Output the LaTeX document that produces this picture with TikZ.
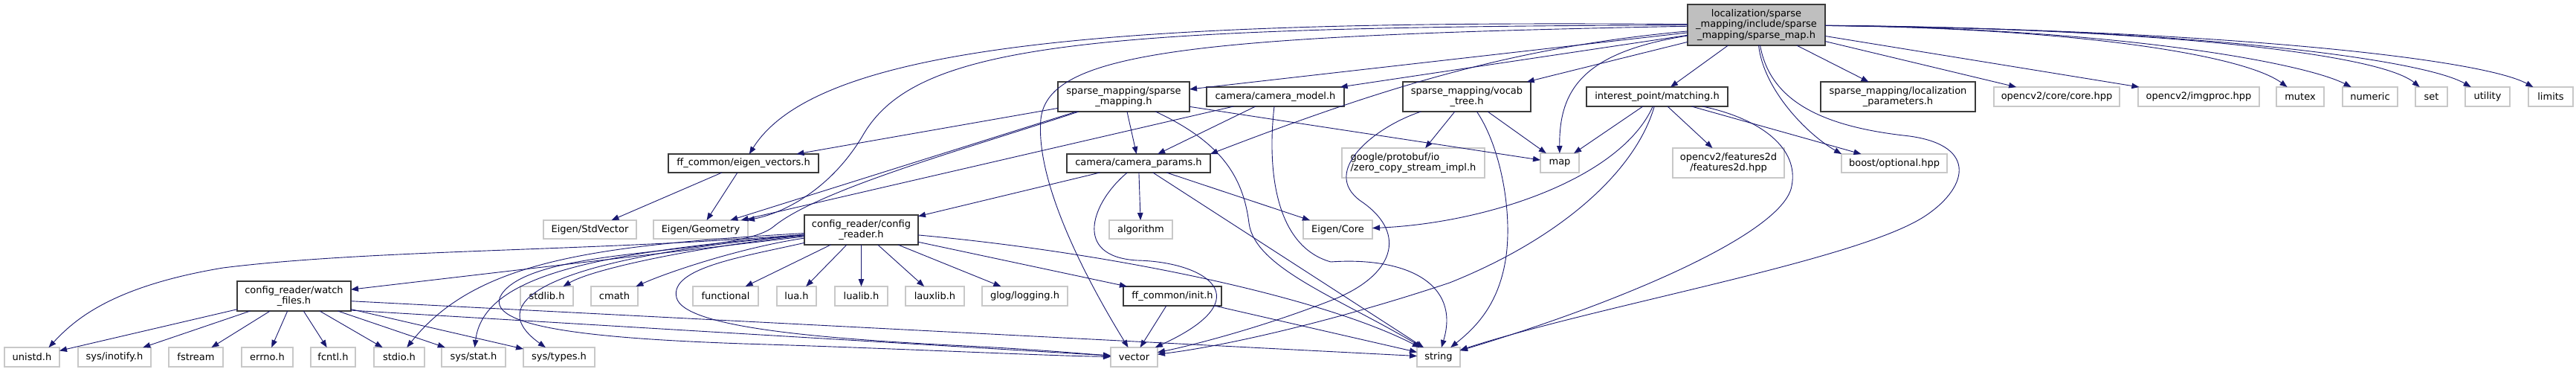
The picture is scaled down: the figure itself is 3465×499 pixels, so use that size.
\documentclass[tikz,border=0pt]{standalone}
\usepackage{fontspec}
\setmainfont{DejaVu Sans}
\usetikzlibrary{arrows.meta}
\definecolor{edgec}{HTML}{191970}
\definecolor{lgray}{HTML}{C8C8C8}
\definecolor{dgray}{HTML}{3A3A3A}
\definecolor{rootgray}{HTML}{BFBFBF}
\newcommand\dfont{\fontsize{13}{14.5}\selectfont}
\tikzset{
  base/.style={rectangle, inner sep=0pt, outer sep=0pt, font=\dfont, line width=1.4pt, align=center},
  ext/.style={base, draw=lgray, fill=white},
  doc/.style={base, draw=dgray, fill=white},
  rootn/.style={base, draw=dgray, fill=rootgray},
  sz/.style 2 args={minimum width=#1pt, minimum height=#2pt},
  e/.style={draw=edgec, line width=0.9pt, -{Triangle[length=10pt,width=7.5pt]}},
}
\begin{document}
\begin{tikzpicture}[x=1pt,y=-1pt]
\fill[white] (0,0) rectangle (3465,499);
\useasboundingbox (0,0) rectangle (3465,499);

% row 1
\node[rootn, sz={185}{55}] (R) at (2362.5,33.5) {localization/sparse\\\_mapping/include/sparse\\\_mapping/sparse\_map.h};
% row 2
\node[doc, sz={177}{40}] (sm) at (1511.5,130) {sparse\_mapping/sparse\\\_mapping.h};
\node[doc, sz={185}{26}] (cm) at (1715.5,130) {camera/camera\_model.h};
\node[doc, sz={172}{40}] (vt) at (1973,130) {sparse\_mapping/vocab\\\_tree.h};
\node[doc, sz={190}{26}] (mt) at (2229,130) {interest\_point/matching.h};
\node[doc, sz={208}{40}] (lp) at (2553,130) {sparse\_mapping/localization\\\_parameters.h};
\node[ext, sz={169}{26}] (core) at (2766.5,130) {opencv2/core/core.hpp};
\node[ext, sz={163}{26}] (imgp) at (2957.5,130) {opencv2/imgproc.hpp};
\node[ext, sz={64}{26}] (mutex) at (3094,130) {mutex};
\node[ext, sz={74}{26}] (numeric) at (3188,130) {numeric};
\node[ext, sz={43}{26}] (set) at (3270.5,130) {set};
\node[ext, sz={60}{26}] (utility) at (3346,130) {utility};
\node[ext, sz={60}{26}] (limits) at (3431,130) {limits};
% row 3
\node[doc, sz={202}{25}] (ev) at (1000,219.5) {ff\_common/eigen\_vectors.h};
\node[doc, sz={193}{25}] (cp) at (1531.5,219.5) {camera/camera\_params.h};
\node[ext, sz={192}{40}, align=left] (gp) at (1901,219) {google/protobuf/io\\/zero\_copy\_stream\_impl.h};
\node[ext, sz={52}{26}] (map) at (2098,219) {map};
\node[ext, sz={150}{40}] (f2d) at (2325,219) {opencv2/features2d\\/features2d.hpp};
\node[ext, sz={142}{25}] (bo) at (2548,219.5) {boost/optional.hpp};
% row 4
\node[ext, sz={125}{25}] (sv) at (793.5,308.5) {Eigen/StdVector};
\node[ext, sz={127}{25}] (eg) at (942.5,308.5) {Eigen/Geometry};
\node[doc, sz={153}{40}] (cr) at (1158.5,309) {config\_reader/config\\\_reader.h};
\node[ext, sz={85}{25}] (alg) at (1534.5,308.5) {algorithm};
\node[ext, sz={93}{25}] (ec) at (1799.5,308.5) {Eigen/Core};
% row 5
\node[doc, sz={153}{40}] (wf) at (395.5,398) {config\_reader/watch\\\_files.h};
\node[ext, sz={71}{26}] (stdlib) at (735.5,398) {stdlib.h};
\node[ext, sz={63}{26}] (cmath) at (826.5,398) {cmath};
\node[ext, sz={88}{26}] (func) at (976,398) {functional};
\node[ext, sz={53}{26}] (lua) at (1071.5,398) {lua.h};
\node[ext, sz={71}{26}] (lualib) at (1158.5,398) {lualib.h};
\node[ext, sz={79}{26}] (lauxlib) at (1257.5,398) {lauxlib.h};
\node[ext, sz={115}{26}] (glog) at (1378.5,398) {glog/logging.h};
\node[doc, sz={132}{26}] (init) at (1577,398) {ff\_common/init.h};
% row 6
\node[ext, sz={74}{26}] (unistd) at (43,480) {unistd.h};
\node[ext, sz={98}{26}] (inotify) at (154,480) {sys/inotify.h};
\node[ext, sz={73}{26}] (fstream) at (263.5,480) {fstream};
\node[ext, sz={69}{26}] (errno) at (359.5,480) {errno.h};
\node[ext, sz={60}{26}] (fcntl) at (448,480) {fcntl.h};
\node[ext, sz={68}{26}] (stdio) at (537,480) {stdio.h};
\node[ext, sz={86}{26}] (stat) at (637,480) {sys/stat.h};
\node[ext, sz={96}{26}] (types) at (752,480) {sys/types.h};
\node[ext, sz={63}{26}] (vector) at (1525.5,480) {vector};
\node[ext, sz={58}{26}] (string) at (1935,480) {string};

% root edges
\draw[e] (R) -- (sm);
\draw[e] (R) -- (cm);
\draw[e] (R) -- (vt);
\draw[e] (R) -- (mt);
\draw[e] (R) -- (lp);
\draw[e] (R) -- (core);
\draw[e] (R) -- (imgp);
\draw[e] (R) .. controls (2800,38) and (3020,75) .. (mutex);
\draw[e] (R) .. controls (2850,38) and (3100,85) .. (numeric);
\draw[e] (R) .. controls (2900,38) and (3200,72) .. (set);
\draw[e] (R) .. controls (2950,38) and (3260,80) .. (utility);
\draw[e] (R) .. controls (3000,40) and (3340,80) .. (limits);
\draw[e] (R) .. controls (2130,70) and (2097,120) .. (map);
\draw[e] (R) .. controls (2372,120) and (2430,180) .. (bo.north west);
\draw[e] (R) .. controls (2380,130) and (2440,168) .. (2560,182) .. controls (2660,192) and (2650,250) .. (2590,290) .. controls (2500,350) and (2150,410) .. (string);
\draw[e] (R) .. controls (1600,48) and (1410,70) .. (1400,160) .. controls (1392,250) and (1470,390) .. (vector);
\draw[e] (R) .. controls (1500,26) and (1100,60) .. (ev);
\draw[e] (R) .. controls (1450,36) and (1230,60) .. (1160,183) .. controls (1120,250) and (1060,285) .. (eg);
\draw[e] (R) .. controls (2050,62) and (1880,110) .. (cp.north east);

% sparse_mapping.h
\draw[e] (sm) -- (ev);
\draw[e] (sm) -- (eg);
\draw[e] (sm) -- (cp);
\draw[e] (sm) -- (map);
\draw[e] (sm) .. controls (1640,190) and (1672,235) .. (1680,300) .. controls (1688,360) and (1800,400) .. (string);
\draw[e] (sm) .. controls (1300,200) and (1100,255) .. (1040,305) .. controls (990,345) and (720,330) .. (675,395) .. controls (645,440) and (800,455) .. (1000,462) .. controls (1200,468) and (1400,478) .. (vector);

% camera_model.h
\draw[e] (cm) -- (cp);
\draw[e] (cm) -- (eg);
\draw[e] (cm) .. controls (1705,220) and (1712,330) .. (1790,352) .. controls (1890,345) and (1965,380) .. (string);

% camera_params.h
\draw[e] (cp) -- (cr);
\draw[e] (cp) -- (alg);
\draw[e] (cp) -- (ec);
\draw[e] (cp) -- (string);
\draw[e] (cp) .. controls (1470,270) and (1440,345) .. (1530,350) .. controls (1620,352) and (1700,400) .. (vector);

% vocab_tree.h
\draw[e] (vt) -- (gp);
\draw[e] (vt) -- (map);
\draw[e] (vt) .. controls (2020,200) and (2035,290) .. (2025,350) .. controls (2015,410) and (1985,440) .. (string);
\draw[e] (vt) .. controls (1850,170) and (1775,230) .. (1830,270) .. controls (1890,310) and (1880,365) .. (1800,400) .. controls (1700,440) and (1600,465) .. (vector);

% matching.h
\draw[e] (mt) -- (map);
\draw[e] (mt) -- (f2d);
\draw[e] (mt) -- (bo);
\draw[e] (mt) .. controls (2180,240) and (2000,300) .. (ec);
\draw[e] (mt) .. controls (2200,230) and (2100,320) .. (1950,380) .. controls (1800,430) and (1650,465) .. (vector);
\draw[e] (mt) .. controls (2370,160) and (2420,200) .. (2410,250) .. controls (2400,310) and (2200,400) .. (string);

% eigen_vectors.h
\draw[e] (ev) -- (sv);
\draw[e] (ev) -- (eg);

% config_reader.h
\draw[e] (cr) -- (wf);
\draw[e] (cr) .. controls (800,338) and (500,335) .. (300,360) .. controls (150,385) and (100,430) .. (unistd.30);
\draw[e] (cr) .. controls (950,330) and (800,360) .. (stdlib);
\draw[e] (cr) .. controls (1000,332) and (900,365) .. (cmath);
\draw[e] (cr) -- (func);
\draw[e] (cr) -- (lua);
\draw[e] (cr) -- (lualib);
\draw[e] (cr) -- (lauxlib);
\draw[e] (cr) -- (glog);
\draw[e] (cr) -- (init);
\draw[e] (cr) .. controls (1500,340) and (1780,400) .. (string);
\draw[e] (cr) .. controls (1000,345) and (900,360) .. (910,400) .. controls (920,440) and (1100,455) .. (1300,465) .. controls (1400,470) and (1450,475) .. (vector);
\draw[e] (cr) .. controls (800,330) and (640,350) .. (stdio);
\draw[e] (cr) .. controls (800,340) and (650,370) .. (stat);
\draw[e] (cr) .. controls (760,345) and (640,400) .. (types);

% watch_files.h
\draw[e] (wf) -- (unistd);
\draw[e] (wf) -- (inotify);
\draw[e] (wf) -- (fstream);
\draw[e] (wf) -- (errno);
\draw[e] (wf) -- (fcntl);
\draw[e] (wf) -- (stdio);
\draw[e] (wf) -- (stat);
\draw[e] (wf) -- (types);
\draw[e] (wf.-5) -- (string);
\draw[e] (wf.-14) -- (vector);

% init.h
\draw[e] (init) -- (vector);
\draw[e] (init) -- (string);
\end{tikzpicture}
\end{document}
